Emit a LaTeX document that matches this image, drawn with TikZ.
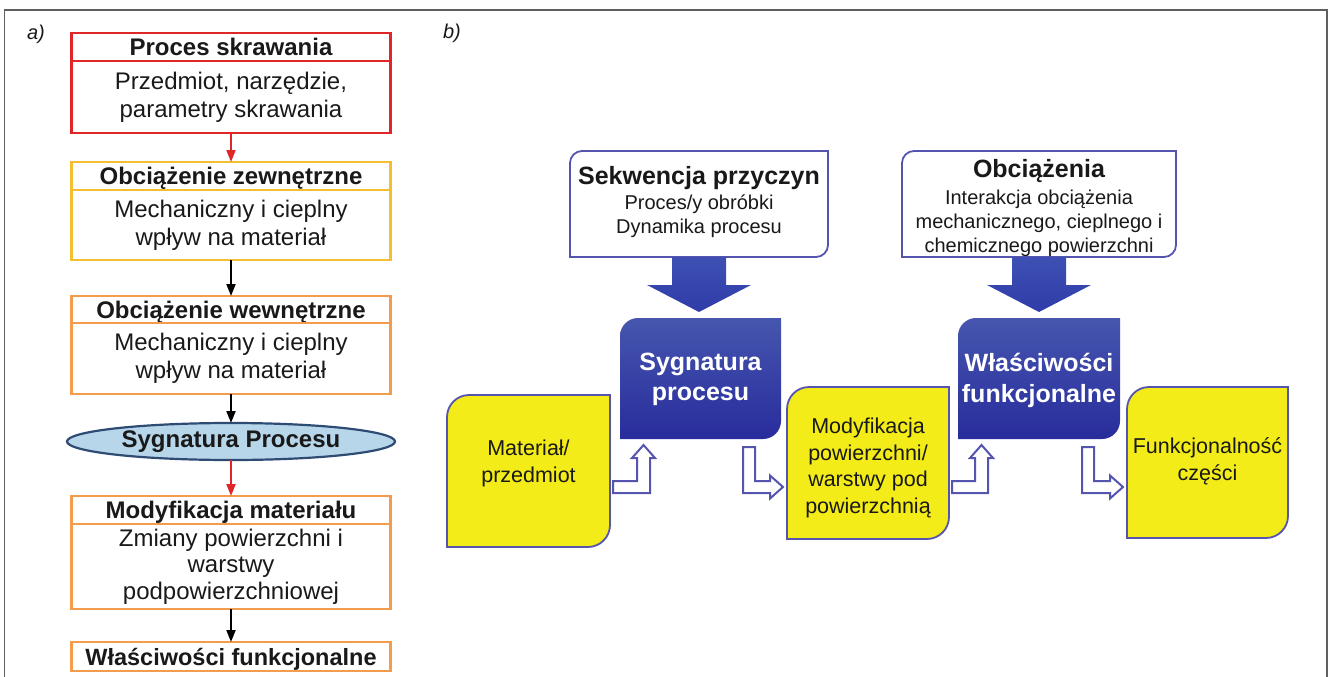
\documentclass[tikz,border=0pt]{standalone}
\usepackage{fontspec}
\setmainfont{Liberation Sans}
\usetikzlibrary{shapes.geometric,arrows.meta,calc}
\definecolor{cred}{RGB}{224,38,40}
\definecolor{cgold}{RGB}{243,190,48}
\definecolor{corange}{RGB}{243,156,78}
\definecolor{ellfill}{RGB}{183,214,234}
\definecolor{elldraw}{RGB}{45,75,115}
\definecolor{pb}{RGB}{85,85,175}
\definecolor{yel}{RGB}{243,236,24}
\definecolor{bluetop}{RGB}{70,86,174}
\definecolor{bluebot}{RGB}{40,44,156}
\definecolor{arrtop}{RGB}{62,80,180}
\definecolor{arrbot}{RGB}{48,60,168}
\definecolor{framec}{RGB}{95,95,95}
\definecolor{txt}{RGB}{25,25,25}
\newcommand\setfs[2]{\fontsize{#1}{#2}\selectfont}
\newcommand\tlbr[3]{%
 \path[#3] ([yshift=-#2pt]#1.north west)
 .. controls ([yshift=-0.45*#2pt]#1.north west) and ([xshift=0.45*#2pt]#1.north west) .. ([xshift=#2pt]#1.north west)
 -- (#1.north east) -- ([yshift=#2pt]#1.south east)
 .. controls ([yshift=0.45*#2pt]#1.south east) and ([xshift=-0.45*#2pt]#1.south east) .. ([xshift=-#2pt]#1.south east)
 -- (#1.south west) -- cycle;}
\newcommand\bigarrow[2]{%
 \path[bigarr] let \p1=(#1.south), \p2=(#2.north) in
 (\x1-27pt,\y1) -- (\x1+27pt,\y1) -- (\x1+27pt,\y1-28pt) -- (\x1+52pt,\y1-28pt)
 -- (\x1,\y2+6pt) -- (\x1-52pt,\y1-28pt) -- (\x1-27pt,\y1-28pt) -- cycle;}
\newcommand\hollowup[2]{%
 \path[harrow] let \p1=(#1.east), \p2=(#2.south west) in
 (\x1+3pt,\y2-42pt) -- (\x2+17pt,\y2-42pt) -- (\x2+17pt,\y2-19pt) -- (\x2+12pt,\y2-19pt)
 -- (\x2+23.5pt,\y2-6pt) -- (\x2+35pt,\y2-19pt) -- (\x2+30pt,\y2-19pt) -- (\x2+30pt,\y2-54pt)
 -- (\x1+3pt,\y2-54pt) -- cycle;}
\newcommand\hollowdown[2]{%
 \path[harrow] let \p1=(#1.south east), \p2=(#2.west) in
 (\x1-38pt,\y1-8pt) -- (\x1-38pt,\y1-54pt) -- (\x2-17pt,\y1-54pt) -- (\x2-17pt,\y1-59.5pt)
 -- (\x2-4pt,\y1-48pt) -- (\x2-17pt,\y1-36.5pt) -- (\x2-17pt,\y1-42pt) -- (\x1-26pt,\y1-42pt)
 -- (\x1-26pt,\y1-8pt) -- cycle;}
\tikzset{
 lbox/.style={draw=#1, line width=2.4pt, minimum width=319, inner sep=0, outer sep=0, align=center, text=txt},
 hdr/.style={lbox=#1, font=\setfs{24}{28}\bfseries, text height=17pt, text depth=0pt},
 bdy/.style={lbox=#1, font=\setfs{24}{28}},
 ell/.style={ellipse, draw=elldraw, fill=ellfill, line width=2.2pt, minimum width=328, minimum height=37, inner sep=0, outer sep=0, font=\setfs{24}{28}\bfseries, text=txt},
 conn/.style={line width=2pt, -{Triangle[length=12pt,width=9pt]}},
 box/.style={inner sep=0, outer sep=0},
 bigarr/.style={top color=arrtop, bottom color=arrbot},
 harrow/.style={draw=pb, fill=white, line width=2pt, line join=miter},
 ttl/.style={inner sep=0, font=\setfs{25}{30}\bfseries, text=txt, text height=18pt, text depth=0pt},
 sub/.style={inner sep=0, align=center, font=\setfs{20}{24}, text=txt},
 wt/.style={inner sep=0, align=center, font=\setfs{25}{30}\bfseries, text=white},
 yt/.style={inner sep=0, align=center, font=\setfs{21.5}{26.5}, text=txt},
 lab/.style={inner sep=0, font=\setfs{20}{24}\itshape, text=txt},
 framel/.style={draw=framec, line width=1.3pt}
}
\begin{document}
\begin{tikzpicture}[x=1pt,y=-1pt]
\useasboundingbox (0,0) rectangle (1330,677);
\draw[framel] (4.5,677) -- (4.5,10) -- (1327,10) -- (1327,677);
% panel a
\node[lab] (la) at (36,34) {a)};
\node[hdr=cred, minimum height=28] (p1h) at (231,47) {Proces skrawania};
\node[bdy=cred, minimum height=72] (p1b) at (231,97) {Przedmiot, narzędzie,\\parametry skrawania};
\node[hdr=cgold, minimum height=28] (p2h) at (231,176) {Obciążenie zewnętrzne};
\node[bdy=cgold, minimum height=70] (p2b) at (231,225) {Mechaniczny i cieplny\\wpływ na materiał};
\node[hdr=corange, minimum height=27] (p3h) at (231,309.5) {Obciążenie wewnętrzne};
\node[bdy=corange, minimum height=71] (p3b) at (231,358.5) {Mechaniczny i cieplny\\wpływ na materiał};
\node[ell] (sig) at (231,441.5) {Sygnatura Procesu};
\node[hdr=corange, minimum height=28] (p4h) at (231,510) {Modyfikacja materiału};
\node[bdy=corange, minimum height=85, font=\setfs{24}{26.5}] (p4b) at (231,566.5) {Zmiany powierzchni i\\warstwy\\podpowierzchniowej};
\node[hdr=corange, minimum height=29, font=\setfs{23.5}{28}\bfseries] (p5) at (231,656.5) {Właściwości funkcjonalne};
\draw[conn, cred] (p1b) -- (p2h);
\draw[conn, black] (p2b) -- (p3h);
\draw[conn, black] (p3b) -- (sig);
\draw[conn, cred] (sig) -- (p4h);
\draw[conn, black] (p4b) -- (p5);
% panel b
\node[lab] (lb) at (452,33) {b)};
\node[box, minimum width=258, minimum height=106] (t1) at (699,204) {};
\node[box, minimum width=274, minimum height=106] (t2) at (1039,204) {};
\node[box, minimum width=161, minimum height=121] (b1) at (700.5,378.5) {};
\node[box, minimum width=162, minimum height=121] (b2) at (1039,378.5) {};
\node[box, minimum width=163, minimum height=152] (y1) at (528.5,471) {};
\node[box, minimum width=162, minimum height=152] (y2) at (868,463) {};
\node[box, minimum width=161, minimum height=151] (y3) at (1207.5,462.5) {};
\tlbr{t1}{12}{draw=pb, fill=white, line width=1.8pt}
\tlbr{t2}{12}{draw=pb, fill=white, line width=1.8pt}
\bigarrow{t1}{b1}
\bigarrow{t2}{b2}
\tlbr{b1}{18}{top color=bluetop, bottom color=bluebot}
\tlbr{b2}{18}{top color=bluetop, bottom color=bluebot}
\tlbr{y1}{22}{draw=pb, fill=yel, line width=1.8pt}
\tlbr{y2}{22}{draw=pb, fill=yel, line width=1.8pt}
\tlbr{y3}{22}{draw=pb, fill=yel, line width=1.8pt}
\hollowup{y1}{b1}
\hollowdown{b1}{y2}
\hollowup{y2}{b2}
\hollowdown{b2}{y3}
\node[ttl] (t1a) at (699,175) {Sekwencja przyczyn};
\node[sub] (t1b) at (699,216) {Proces/y obróbki\\Dynamika procesu};
\node[ttl] (t2a) at (1039,168) {Obciążenia};
\node[sub] (t2b) at (1039,223) {Interakcja obciążenia\\mechanicznego, cieplnego i\\chemicznego powierzchni};
\node[wt] (b1t) at (700.5,379) {Sygnatura\\procesu};
\node[wt, font=\setfs{25}{31}\bfseries] (b2t) at (1039,380) {Właściwości\\funkcjonalne};
\node[yt] (y1t) at (528.5,463.5) {Materiał/\\przedmiot};
\node[yt] (y2t) at (868,468) {Modyfikacja\\powierzchni/\\warstwy pod\\powierzchnią};
\node[yt] (y3t) at (1207.5,461.5) {Funkcjonalność\\części};
\end{tikzpicture}
\end{document}
